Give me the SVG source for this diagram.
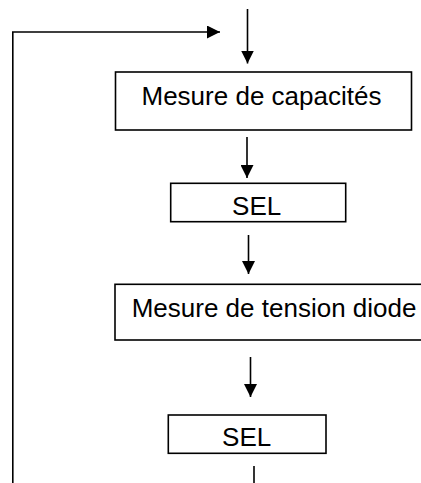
<svg xmlns="http://www.w3.org/2000/svg" width="421" height="483" viewBox="0 0 421 483">
<style>
.box{fill:#fff;stroke:#000;stroke-width:1.6}
.ln{fill:none;stroke:#000;stroke-width:1.6}
text{font-family:"Liberation Sans",Arial,sans-serif;font-size:26px;fill:#000}
</style>
<defs>
<marker id="ah" markerWidth="13" markerHeight="13" refX="13" refY="6.5" orient="auto" markerUnits="userSpaceOnUse">
<path d="M0,0 L13,6.5 L0,13 Z" fill="#000"/>
</marker>
</defs>
<rect width="421" height="483" fill="#fff"/>
<g id="connectors">
<path class="ln" d="M12.8,483 L12.8,32 L220,32" marker-end="url(#ah)"/>
<line class="ln" x1="247.5" y1="9" x2="247.5" y2="63.5" marker-end="url(#ah)"/>
<line class="ln" x1="247" y1="137" x2="247" y2="178" marker-end="url(#ah)"/>
<line class="ln" x1="248.5" y1="235" x2="248.5" y2="274" marker-end="url(#ah)"/>
<line class="ln" x1="250.5" y1="357" x2="250.5" y2="397" marker-end="url(#ah)"/>
<line class="ln" x1="254" y1="466" x2="254" y2="483"/>
</g>
<g id="node-capacites">
<rect class="box" x="115.5" y="72" width="296" height="58"/>
<text x="141.5" y="104.5">Mesure de capacités</text>
</g>
<g id="node-sel1">
<rect class="box" x="170.7" y="183.3" width="175" height="38.4"/>
<text x="256.7" y="215" text-anchor="middle">SEL</text>
</g>
<g id="node-diode">
<rect class="box" x="115" y="284.3" width="320" height="55.7"/>
<text x="131.7" y="316.7">Mesure de tension diode</text>
</g>
<g id="node-sel2">
<rect class="box" x="168.3" y="415" width="157.7" height="38.3"/>
<text x="246.7" y="446" text-anchor="middle">SEL</text>
</g>
</svg>
